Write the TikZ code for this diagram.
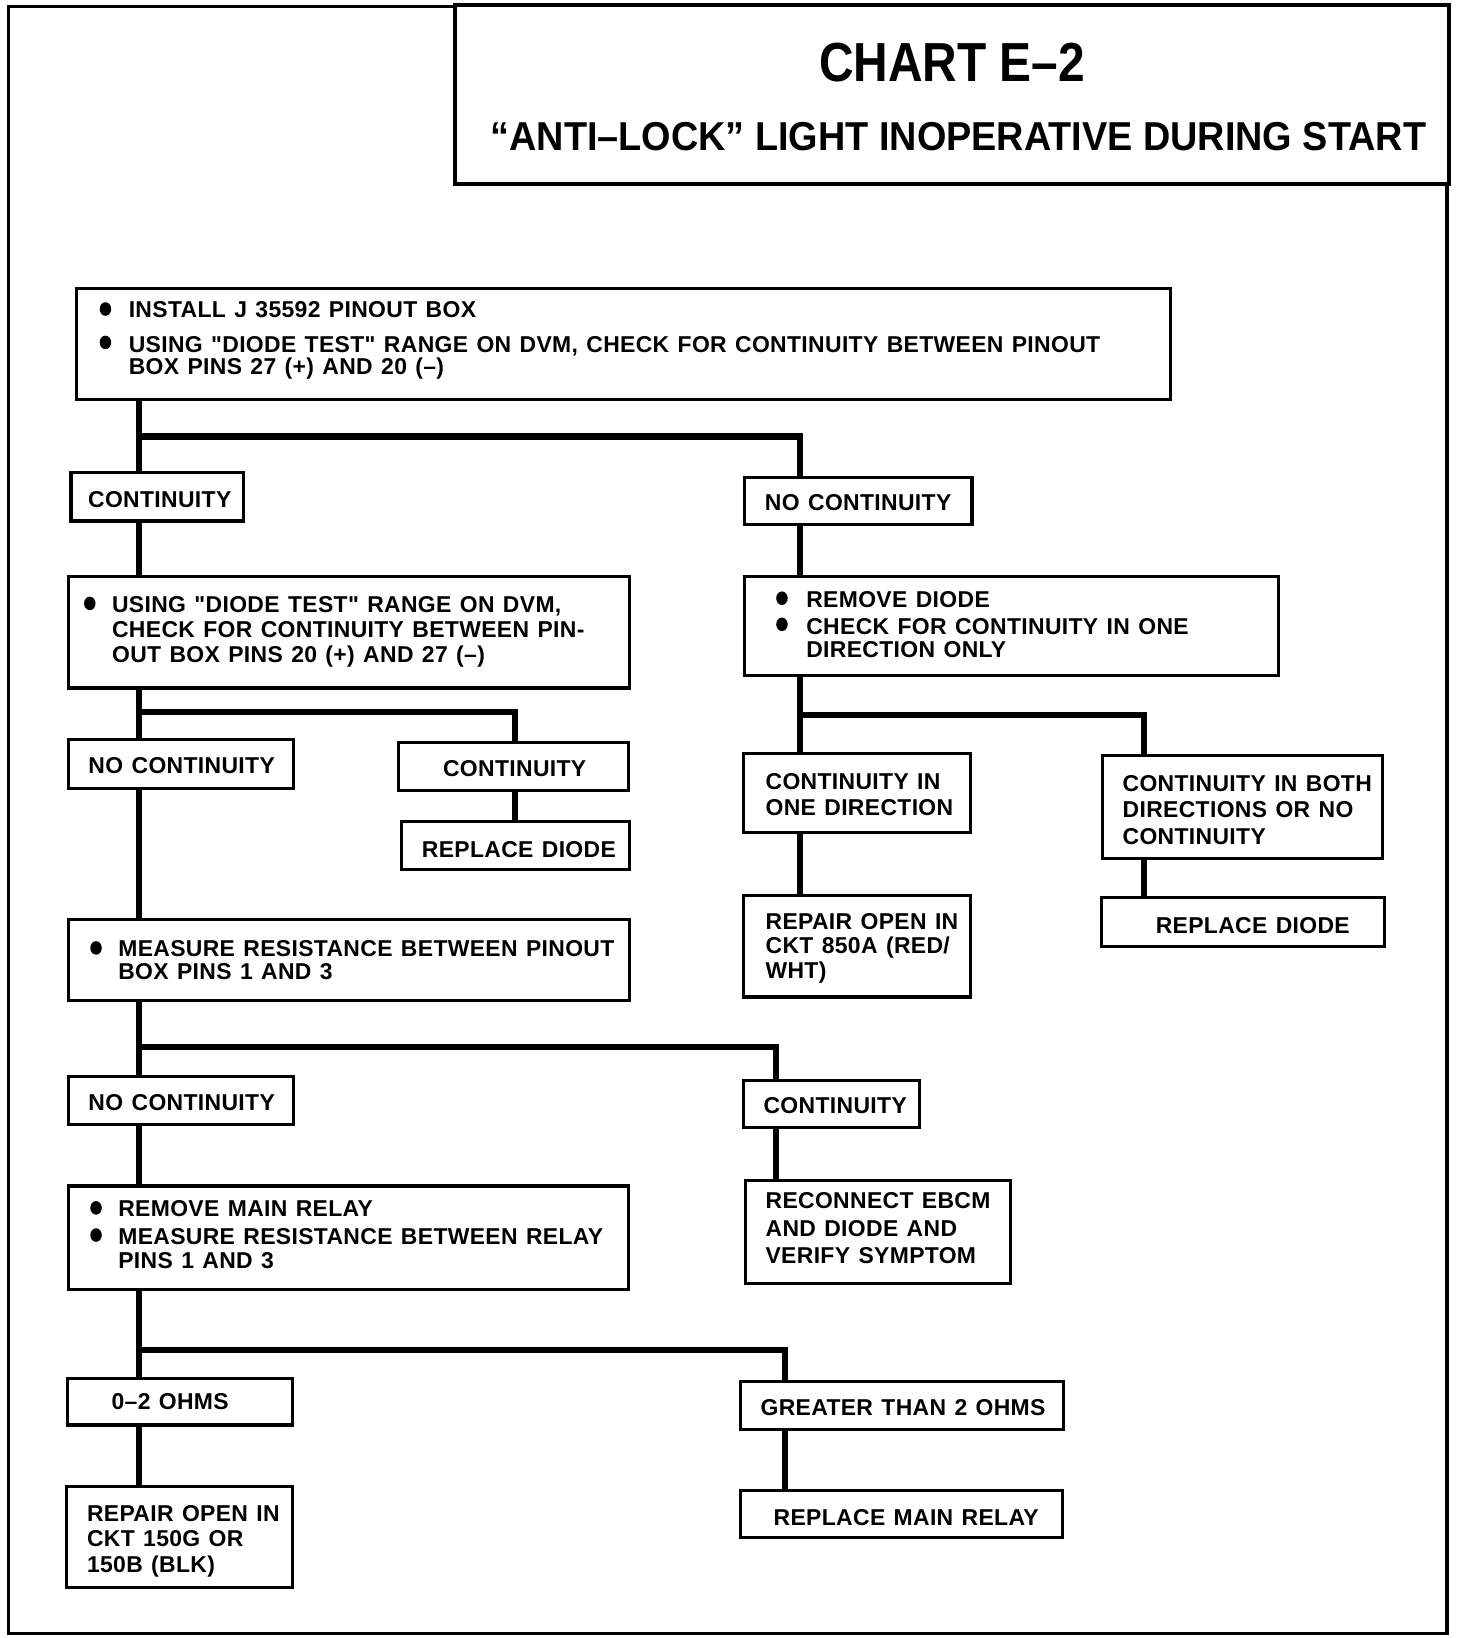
\documentclass[tikz,border=0pt]{standalone}
\usepackage{fontspec}
\usepackage{graphicx}
\setmainfont{Liberation Sans}
\newfontfamily\bodyfam[LetterSpace=1.5, WordSpace=1.25]{Liberation Sans}
\newcommand\bodyfont{\bodyfam\fontsize{12.5}{14}\selectfont\bfseries}
\newcommand\qd{\symbol{34}}
\newcommand\bx[5]{\node[bxs, minimum width={(#4-#2)*0.02cm}, minimum height={(#5-#3)*0.02cm}] (#1) at ({(#2+#4)/2},{(#3+#5)/2}) {};}
\newcommand\bul[2]{\fill (#1,#2) ellipse [x radius=5.5, y radius=6.5];}
\tikzset{
  bxs/.style={draw, line width=1.7pt, inner sep=0pt},
  conn/.style={line width=3.4pt, line join=miter, line cap=rect},
  tx/.style={anchor=base west, inner sep=0pt, font=\bodyfont},
  txc/.style={anchor=base, inner sep=0pt, font=\bodyfont},
}
\begin{document}
\begin{tikzpicture}[x=0.02cm,y=-0.02cm]
\useasboundingbox (0,0) rectangle (1410,1569);
% frame and title
\draw[line width=1.7pt] (436,6) -- (8,6) -- (8,1565) -- (1386,1565) -- (1386,176);
\draw[line width=2pt] (436,5) rectangle (1388,176);
\node[anchor=base, inner sep=0pt, font=\fontsize{30}{32}\selectfont\bfseries] (title) at (912,78) {\scalebox{0.87}[1]{CHART E–2}};
\node[anchor=base, inner sep=0pt, font=\fontsize{22}{24}\selectfont\bfseries] (subtitle) at (918,144) {\scalebox{0.937}[1]{“ANTI–LOCK” LIGHT INOPERATIVE DURING START}};
% boxes
\bx{b1}{73}{276}{1121}{383}
\bul{101}{296}\bul{101}{328}
\node[tx] (b1a) at (123,304) {INSTALL J 35592 PINOUT BOX};
\node[tx] (b1b) at (123,338) {USING \qd DIODE TEST\qd{} RANGE ON DVM, CHECK FOR CONTINUITY BETWEEN PINOUT};
\node[tx] (b1c) at (123,359) {BOX PINS 27 (+) AND 20 (–)};

\bx{c1}{68}{453}{233}{499}
\node[txc] (c1t) at (153,486) {CONTINUITY};
\bx{nc1}{713}{457}{931}{502}
\node[txc] (nc1t) at (822,489) {NO CONTINUITY};

\bx{b2}{66}{552}{603}{659}
\bul{86}{578}
\node[tx] (b2a) at (107,587) {USING \qd DIODE TEST\qd{} RANGE ON DVM,};
\node[tx] (b2b) at (107,611) {CHECK FOR CONTINUITY BETWEEN PIN-};
\node[tx] (b2c) at (107,635) {OUT BOX PINS 20 (+) AND 27 (–)};

\bx{b3}{713}{552}{1225}{647}
\bul{749}{573}\bul{749}{598}
\node[tx] (b3a) at (772,582) {REMOVE DIODE};
\node[tx] (b3b) at (772,608) {CHECK FOR CONTINUITY IN ONE};
\node[tx] (b3c) at (772,630) {DIRECTION ONLY};

\bx{nc2}{66}{708}{281}{755}
\node[txc] (nc2t) at (174,741) {NO CONTINUITY};
\bx{c2}{382}{711}{602}{757}
\node[txc] (c2t) at (493,744) {CONTINUITY};
\bx{rd1}{385}{787}{603}{833}
\node[txc] (rd1t) at (497,821) {REPLACE DIODE};

\bx{b4}{66}{881}{603}{958}
\bul{92}{908}
\node[tx] (b4a) at (113,916) {MEASURE RESISTANCE BETWEEN PINOUT};
\node[tx] (b4b) at (113,938) {BOX PINS 1 AND 3};

\bx{od}{712}{722}{930}{797}
\node[tx] (oda) at (733,756) {CONTINUITY IN};
\node[tx] (odb) at (733,781) {ONE DIRECTION};
\bx{bd}{1056}{724}{1324}{822}
\node[tx] (bda) at (1075,758) {CONTINUITY IN BOTH};
\node[tx] (bdb) at (1075,783) {DIRECTIONS OR NO};
\node[tx] (bdc) at (1075,809) {CONTINUITY};
\bx{ro}{712}{858}{930}{955}
\node[tx] (roa) at (733,890) {REPAIR OPEN IN};
\node[tx] (rob) at (733,913) {CKT 850A (RED/};
\node[tx] (roc) at (733,937) {WHT)};
\bx{rd2}{1055}{860}{1326}{907}
\node[txc] (rd2t) at (1200,894) {REPLACE DIODE};

\bx{nc3}{66}{1031}{281}{1077}
\node[txc] (nc3t) at (174,1064) {NO CONTINUITY};
\bx{c3}{712}{1035}{881}{1080}
\node[txc] (c3t) at (800,1067) {CONTINUITY};
\bx{rc}{714}{1131}{968}{1229}
\node[tx] (rca) at (733,1158) {RECONNECT EBCM};
\node[tx] (rcb) at (733,1184) {AND DIODE AND};
\node[tx] (rcc) at (733,1210) {VERIFY SYMPTOM};

\bx{b5}{66}{1136}{602}{1235}
\bul{92}{1157}\bul{92}{1183}
\node[tx] (b5a) at (113,1165) {REMOVE MAIN RELAY};
\node[tx] (b5b) at (113,1192) {MEASURE RESISTANCE BETWEEN RELAY};
\node[tx] (b5c) at (113,1215) {PINS 1 AND 3};

\bx{oh}{65}{1320}{280}{1365}
\node[txc] (oht) at (163,1350) {0–2 OHMS};
\bx{gt}{709}{1323}{1019}{1369}
\node[txc] (gtt) at (865,1356) {GREATER THAN 2 OHMS};
\bx{ro2}{64}{1424}{280}{1521}
\node[tx] (ro2a) at (83,1457) {REPAIR OPEN IN};
\node[tx] (ro2b) at (83,1481) {CKT 150G OR};
\node[tx] (ro2c) at (83,1506) {150B (BLK)};
\bx{rm}{709}{1428}{1018}{1473}
\node[txc] (rmt) at (868,1461) {REPLACE MAIN RELAY};

% connector columns
\coordinate (xL) at (133,0);
\coordinate (xA) at (766,0);
\coordinate (xB) at (493,0);
\coordinate (xC) at (1096,0);
\coordinate (xD) at (743,0);
\coordinate (xE) at (752,0);
\coordinate (j1) at (133,418);
\coordinate (j2) at (133,682);
\coordinate (j3) at (766,685);
\coordinate (j4) at (133,1003);
\coordinate (j5) at (133,1293);
% connectors
\draw[conn] (b1.south -| xL) -- (c1.north -| xL);
\draw[conn] (j1) -| (nc1.north -| xA);
\draw[conn] (c1.south -| xL) -- (b2.north -| xL);
\draw[conn] (nc1.south -| xA) -- (b3.north -| xA);
\draw[conn] (b2.south -| xL) -- (nc2.north -| xL);
\draw[conn] (j2) -| (c2.north -| xB);
\draw[conn] (c2.south -| xB) -- (rd1.north -| xB);
\draw[conn] (nc2.south -| xL) -- (b4.north -| xL);
\draw[conn] (b3.south -| xA) -- (od.north -| xA);
\draw[conn] (j3) -| (bd.north -| xC);
\draw[conn] (od.south -| xA) -- (ro.north -| xA);
\draw[conn] (bd.south -| xC) -- (rd2.north -| xC);
\draw[conn] (b4.south -| xL) -- (nc3.north -| xL);
\draw[conn] (j4) -| (c3.north -| xD);
\draw[conn] (c3.south -| xD) -- (rc.north -| xD);
\draw[conn] (nc3.south -| xL) -- (b5.north -| xL);
\draw[conn] (b5.south -| xL) -- (oh.north -| xL);
\draw[conn] (j5) -| (gt.north -| xE);
\draw[conn] (oh.south -| xL) -- (ro2.north -| xL);
\draw[conn] (gt.south -| xE) -- (rm.north -| xE);
\end{tikzpicture}
\end{document}
